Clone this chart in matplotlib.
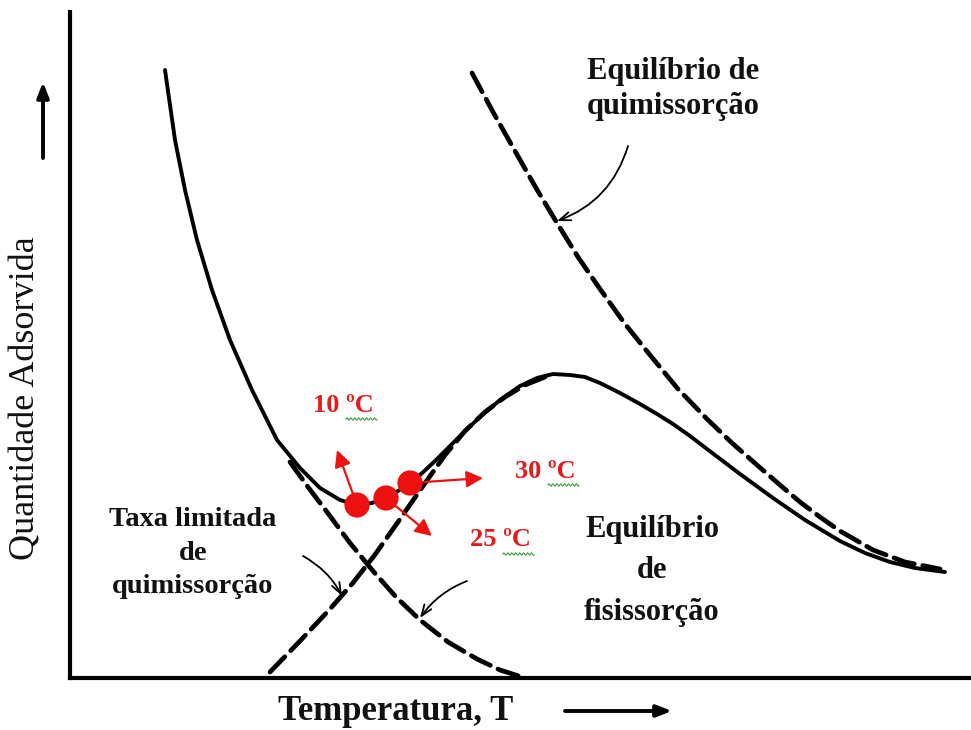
import numpy as np
import matplotlib.pyplot as plt

plt.rcParams['font.family'] = ['Liberation Serif', 'DejaVu Serif']

# Curves (arbitrary units: temperature T, adsorbed amount q)
T_total = [95, 100, 105, 115, 127, 142, 160, 182, 207, 230, 250, 270, 287, 302, 316,
           328, 340, 350, 365, 380, 395, 410, 430, 450, 467, 483, 500, 515, 530, 550,
           570, 587, 603, 620, 637, 670, 703, 735, 770, 795, 820, 845, 875]
q_total = [608, 573, 538, 488, 438, 388, 338, 288, 238, 210, 190, 178, 173, 175, 180,
           187, 195, 203, 217, 232, 247, 261, 278, 292, 300, 304, 303, 301, 295, 285,
           274, 264, 254, 242, 229, 204, 180, 158, 137, 125, 116, 110, 106]

T_rate = [220, 238, 257, 280, 303, 326, 350, 378, 407, 430, 455]
q_rate = [216, 191, 166, 135, 107, 81, 58, 36, 19, 8, 0]

T_phys = [200, 230, 260, 282, 304, 328, 353, 375, 395, 415, 435, 455, 475]
q_phys = [6, 37, 69, 94, 122, 156, 192, 223, 247, 266, 281, 293, 301]

T_chem = [402, 423, 445, 466, 487, 508, 530, 555, 580, 608, 637, 662, 687, 710,
          730, 750, 770, 803, 835, 870]
q_chem = [605, 566, 527, 490, 455, 421, 389, 354, 323, 289, 259, 235, 213, 193,
          176, 161, 147, 128, 116, 109]

# Measured points at 10, 25 and 30 degC
T_pts = [287, 316, 340]
q_pts = [173, 180, 195]
pt_labels = ['10 ºC', '25 ºC', '30 ºC']

fig = plt.figure(figsize=(9.71, 7.30), dpi=100)
ax = fig.add_axes([70 / 971, 52 / 730, 901 / 971, 666 / 730])
ax.set_xlim(0, 901)
ax.set_ylim(0, 666)
ax.set_xticks([])
ax.set_yticks([])
for s in ['top', 'right']:
    ax.spines[s].set_visible(False)
for s in ['left', 'bottom']:
    ax.spines[s].set_linewidth(3)

dash = dict(color='black', lw=3.4, linestyle=(0, (4.5, 1.8)), dash_capstyle='round',
            solid_joinstyle='round')
ax.plot(T_rate, q_rate, **dash)
ax.plot(T_phys, q_phys, **dash)
ax.plot(T_chem, q_chem, **dash)
ax.plot(T_total, q_total, color='black', lw=2.8, solid_joinstyle='round',
        solid_capstyle='round')

# red arrows and points
arrow_tips = [(267, 228), (362, 142), (413, 200)]
for x, y, (tx, ty) in zip(T_pts, q_pts, arrow_tips):
    ax.annotate('', xy=(tx, ty), xytext=(x, y),
                arrowprops=dict(arrowstyle='-|>,head_length=1.0,head_width=0.5',
                                color='#ee1111', lw=1.6, shrinkA=0, shrinkB=0))
ax.scatter(T_pts, q_pts, s=330, color='#ee1111', zorder=5, edgecolors='none')

label_pos = [(273, 273), (430, 138), (475, 207)]
for txt, (lx, ly) in zip(pt_labels, label_pos):
    ax.text(lx, ly, txt, color='#e31b1b', fontsize=19, fontweight='bold',
            ha='center', va='center')
    # squiggly underline under "ºC"
    xs = np.linspace(lx + 3, lx + 34, 40)
    ax.plot(xs, ly - 14 + 1.2 * np.sin((xs - xs[0]) * 1.6), color='#3a9a3a', lw=0.8)

# black annotations
bold = dict(fontweight='bold', ha='center', va='center', color='#111111')
ax.text(603, 589, 'Equilíbrio de\nquimissorção', fontsize=22, linespacing=1.3, **bold)
ax.text(123, 125, 'Taxa limitada\nde\nquimissorção', fontsize=20.5, linespacing=1.45,
        **bold)
ax.text(582, 107, 'Equilíbrio\nde\nfisissorção', fontsize=22, linespacing=1.55, **bold)

thin = dict(arrowstyle='->,head_length=0.8,head_width=0.3', color='black', lw=1.3,
            shrinkA=0, shrinkB=0)
ax.annotate('', xy=(487, 457), xytext=(558, 532),
            arrowprops=dict(connectionstyle='arc3,rad=-0.25', **thin))
ax.annotate('', xy=(272, 82), xytext=(233, 122),
            arrowprops=dict(connectionstyle='arc3,rad=-0.15', **thin))
ax.annotate('', xy=(350, 60), xytext=(397, 97),
            arrowprops=dict(connectionstyle='arc3,rad=0.15', **thin))

# axis labels with arrows
ax.text(326, -33, 'Temperatura, T', fontsize=25, fontweight='bold', ha='center',
        va='center', clip_on=False, color='#111111')
ax.annotate('', xy=(602, -33), xytext=(495, -33), annotation_clip=False,
            arrowprops=dict(arrowstyle='-|>,head_length=0.9,head_width=0.35',
                            color='black', lw=2.8, shrinkA=0, shrinkB=0))
ax.text(-44, 280, 'Quantidade Adsorvida', fontsize=26, rotation=90, ha='center',
        va='center', clip_on=False, color='#111111')
ax.annotate('', xy=(-27, 596), xytext=(-27, 520), annotation_clip=False,
            arrowprops=dict(arrowstyle='-|>,head_length=0.9,head_width=0.35',
                            color='black', lw=2.8, shrinkA=0, shrinkB=0))

fig.savefig('out.png', dpi=100)
